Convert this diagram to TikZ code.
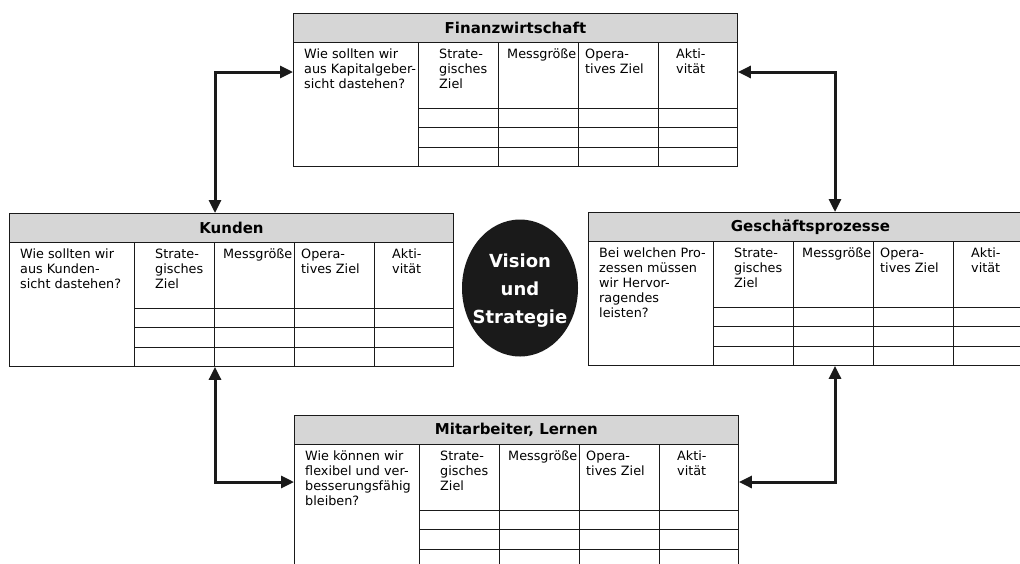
\documentclass[tikz,border=0pt]{standalone}
\usepackage{fontspec}
\setmainfont{DejaVu Sans}
\usetikzlibrary{arrows.meta,shapes.geometric}
\definecolor{headgray}{HTML}{D6D6D6}
\definecolor{inkblack}{HTML}{1A1A1A}

\tikzset{
	tblframe/.style={draw=inkblack, line width=0.9pt, minimum width=444pt, minimum height=153pt, inner sep=0pt, anchor=north west},
	tblhead/.style={draw=inkblack, fill=headgray, line width=0.9pt, minimum width=444pt, minimum height=29pt, inner sep=0pt, anchor=north west, font=\bfseries\fontsize{15}{17}\selectfont},
	celltext/.style={anchor=north west, align=left, inner sep=0pt, font=\fontsize{12.8}{15}\selectfont},
	link/.style={line width=3pt, draw=inkblack, {Triangle[length=13pt,width=12pt]}-{Triangle[length=13pt,width=12pt]}},
}

% name, x, y, title, question
\newcommand{\bsctable}[5]{%
	\node[tblframe] (#1) at (#2,#3) {};
	\node[tblhead] (#1-h) at (#2,#3) {#4};
	\foreach \cx in {125,205,285,365}
		\draw[line width=0.9pt, inkblack] ([xshift=\cx pt]#1-h.south west) -- ([xshift=\cx pt]#1.south west);
	\foreach \ry in {66,85,105}
		\draw[line width=0.9pt, inkblack] ([xshift=125pt, yshift=-\ry pt]#1-h.south west) -- ([yshift=-\ry pt]#1-h.south east);
	\node[celltext] (#1-q) at ([xshift=11pt, yshift=-5.5pt]#1-h.south west) {#5};
	\node[celltext] (#1-s) at ([xshift=146pt, yshift=-5.5pt]#1-h.south west) {Strate-\\gisches\\Ziel};
	\node[celltext] (#1-m) at ([xshift=214pt, yshift=-5.5pt]#1-h.south west) {Messgröße};
	\node[celltext] (#1-o) at ([xshift=292pt, yshift=-5.5pt]#1-h.south west) {Opera-\\tives Ziel};
	\node[celltext] (#1-a) at ([xshift=383pt, yshift=-5.5pt]#1-h.south west) {Akti-\\vität};
}

\begin{document}
\begin{tikzpicture}[x=1pt, y=-1pt]
	\useasboundingbox (0,0) rectangle (1020,563);

	\bsctable{fin}{293}{13}{Finanzwirtschaft}{Wie sollten wir\\aus Kapitalgeber-\\sicht dastehen?}
	\bsctable{kun}{9}{213}{Kunden}{Wie sollten wir\\aus Kunden-\\sicht dastehen?}
	\bsctable{pro}{588}{212}{Geschäftsprozesse}{Bei welchen Pro-\\zessen müssen\\wir Hervor-\\ragendes\\leisten?}
	\bsctable{mit}{294}{415}{Mitarbeiter, Lernen}{Wie können wir\\flexibel und ver-\\besserungsfähig\\bleiben?}

	\node[ellipse, fill=inkblack, minimum width=116pt, minimum height=137pt, inner sep=0pt] (vis) at (520,288) {};
	\node[align=center, inner sep=0pt, text=white, font=\bfseries\fontsize{18}{28}\selectfont] (vis-t)
		at ([yshift=-3pt]vis.center) {Vision\\und\\Strategie};

	\draw[link] ([xshift=206pt]kun.north west) |- ([yshift=-59pt]fin.north west);
	\draw[link] ([xshift=247pt]pro.north west) |- ([yshift=-59pt]fin.north east);
	\draw[link] ([xshift=206pt]kun.south west) |- ([yshift=-67pt]mit.north west);
	\draw[link] ([xshift=247pt]pro.south west) |- ([yshift=-67pt]mit.north east);
\end{tikzpicture}
\end{document}
